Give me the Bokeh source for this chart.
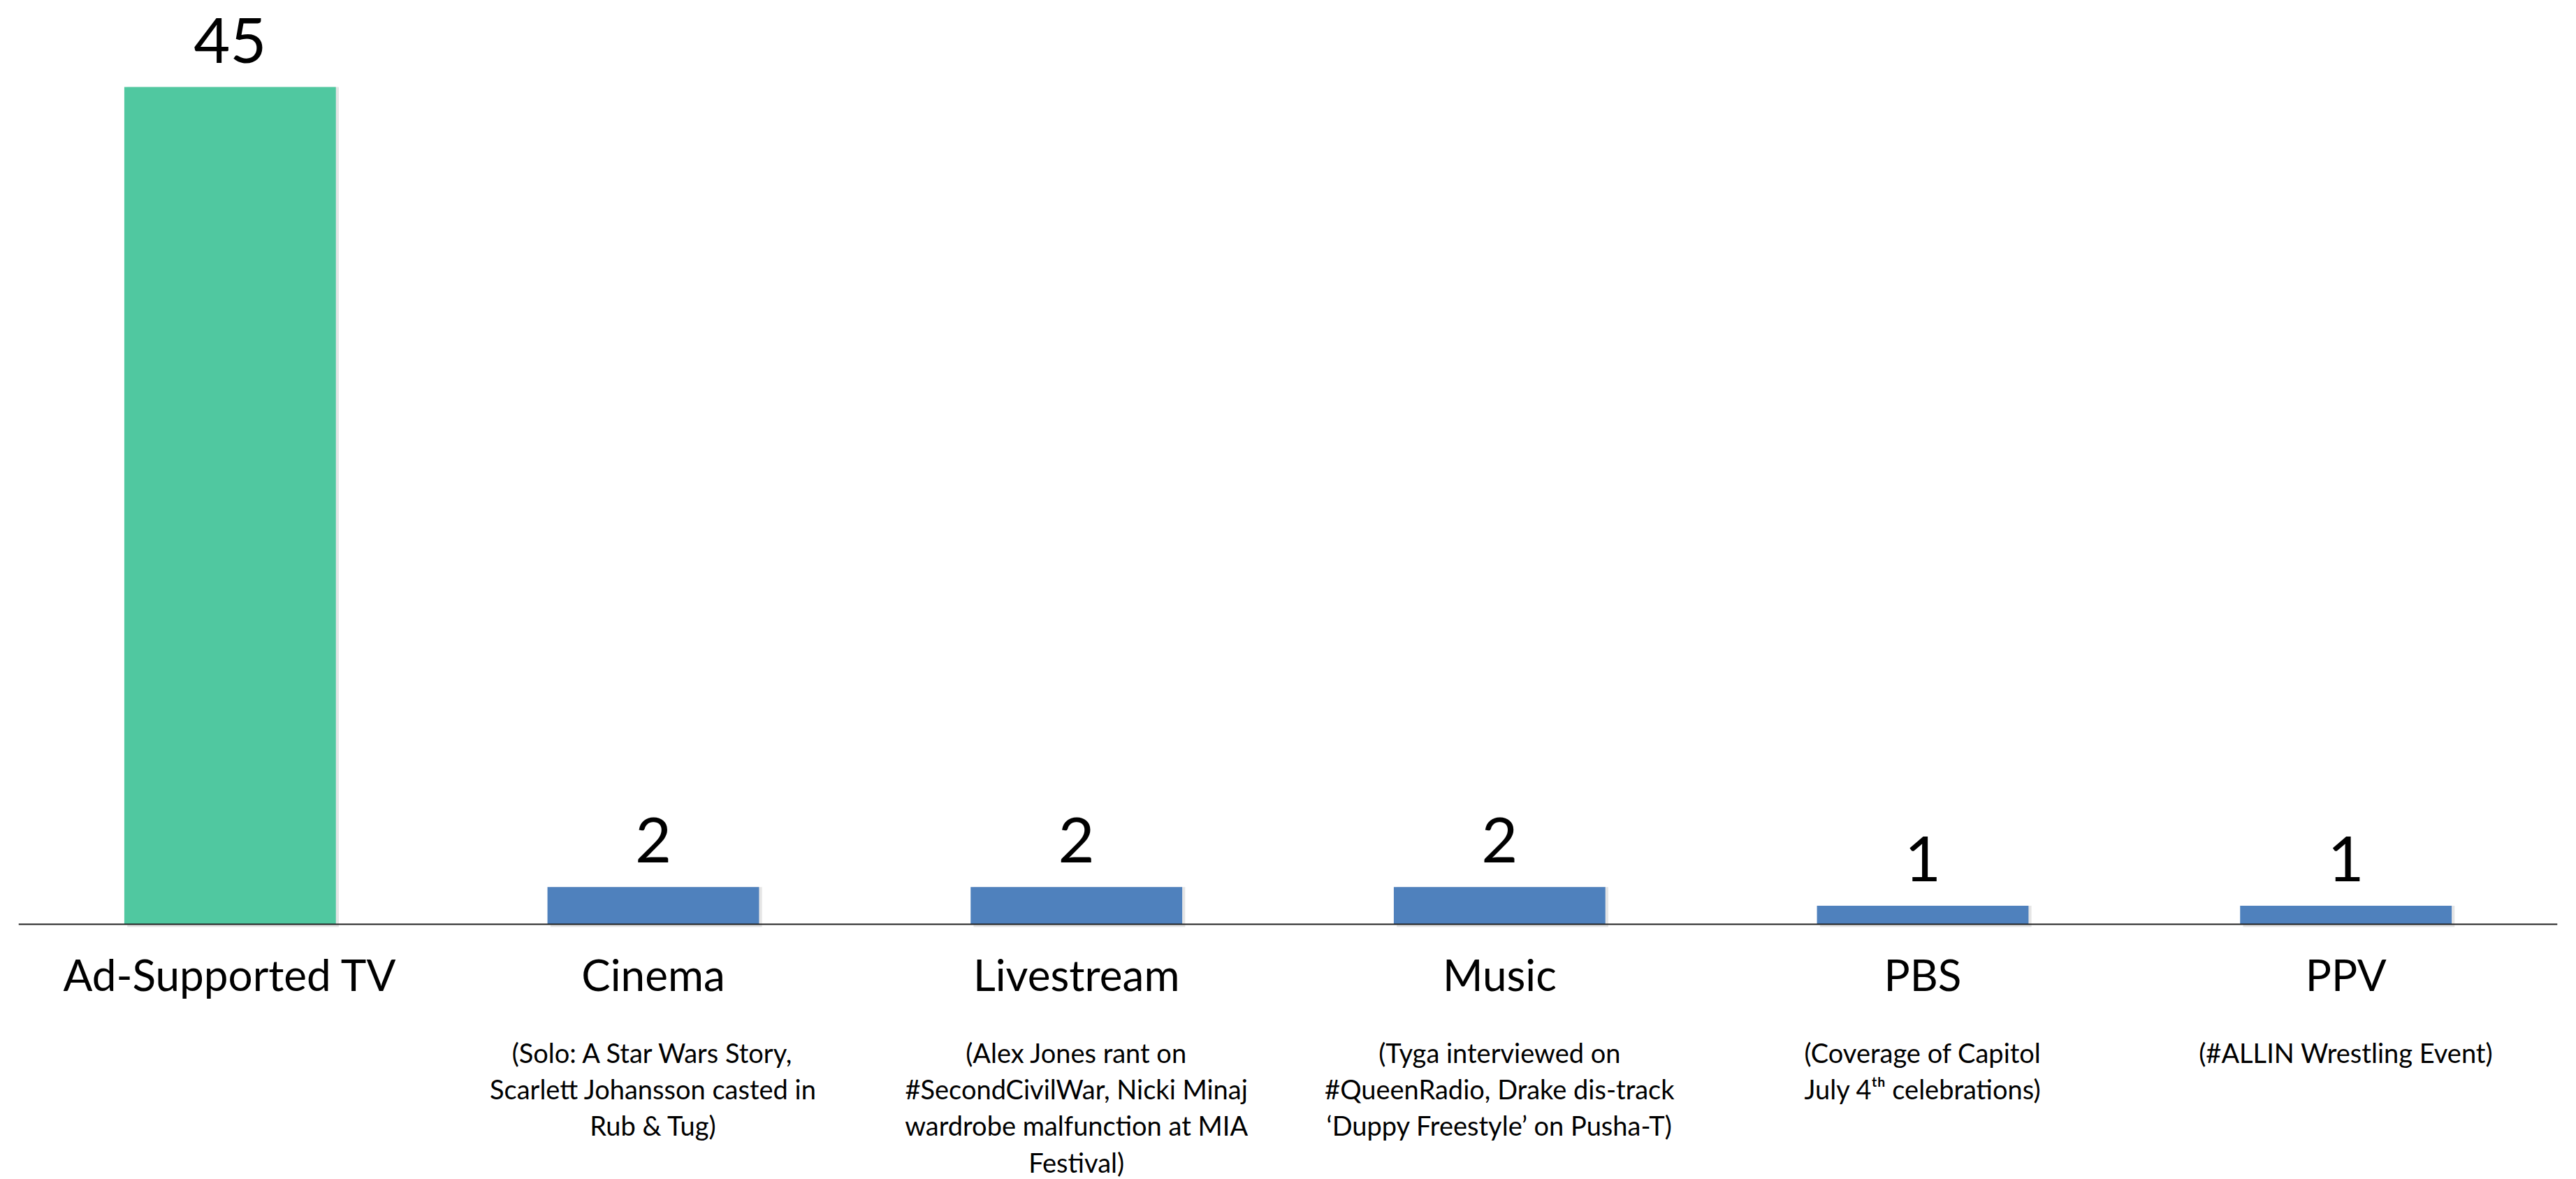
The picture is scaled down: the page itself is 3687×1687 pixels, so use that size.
from bokeh.plotting import figure
from bokeh.models import FactorRange, Range1d, ColumnDataSource
from bokeh.transform import dodge
from bokeh.core.properties import value
from bokeh.embed import file_html
from bokeh.resources import INLINE

categories = ["Ad-Supported TV", "Cinema", "Livestream", "Music", "PBS", "PPV"]
counts = [45, 2, 2, 2, 1, 1]
bar_colors = ["#50C8A0", "#4F81BD", "#4F81BD", "#4F81BD", "#4F81BD", "#4F81BD"]
subtitles = [
    "",
    "(Solo: A Star Wars Story,\nScarlett Johansson casted in\nRub & Tug)",
    "(Alex Jones rant on\n#SecondCivilWar, Nicki Minaj\nwardrobe malfunction at MIA\nFestival)",
    "(Tyga interviewed on\n#QueenRadio, Drake dis-track\n\u2018Duppy Freestyle\u2019 on Pusha-T)",
    "(Coverage of Capitol\nJuly 4\u1d57\u02b0 celebrations)",
    "(#ALLIN Wrestling Event)",
]
value_labels = [str(c) for c in counts]

src = ColumnDataSource(dict(cat=categories, count=counts, color=bar_colors,
                            sub=subtitles, lab=value_labels, zero=[0] * len(counts)))

p = figure(x_range=FactorRange(*categories), y_range=Range1d(-13.71, 49.66),
           width=3680, height=1687, output_backend="svg", toolbar_location=None,
           min_border_left=26, min_border_right=20, min_border_top=0, min_border_bottom=0)

# faint shadow
p.vbar(x=dodge("cat", 0.007, range=p.x_range), top="count", bottom=-0.15, width=0.5,
       source=src, fill_color="#000000", fill_alpha=0.10, line_color=None)
p.vbar(x="cat", top="count", width=0.5, source=src, fill_color="color", line_color=None)

p.text(x="cat", y="count", text="lab", source=src, y_offset=-67,
       text_align="center", text_baseline="alphabetic",
       text_font=value("Lato"), text_font_size="90px", text_color="#000000")

p.text(x="cat", y="zero", text="sub", source=src, y_offset=160,
       text_align="center", text_baseline="top", text_line_height=1.14,
       text_font=value("Lato"), text_font_size="38px", text_color="#000000")

p.xaxis.fixed_location = 0
p.xaxis.axis_line_color = "#222222"
p.xaxis.axis_line_width = 2
p.xaxis.major_tick_line_color = None
p.xaxis.minor_tick_line_color = None
p.xaxis.major_tick_out = 0
p.xaxis.major_label_standoff = 34
p.xaxis.major_label_text_font = "Lato"
p.xaxis.major_label_text_font_size = "62px"
p.xaxis.major_label_text_color = "#000000"
p.yaxis.visible = False
p.grid.visible = False
p.outline_line_color = None

open("out.html", "w").write(file_html(p, INLINE))
